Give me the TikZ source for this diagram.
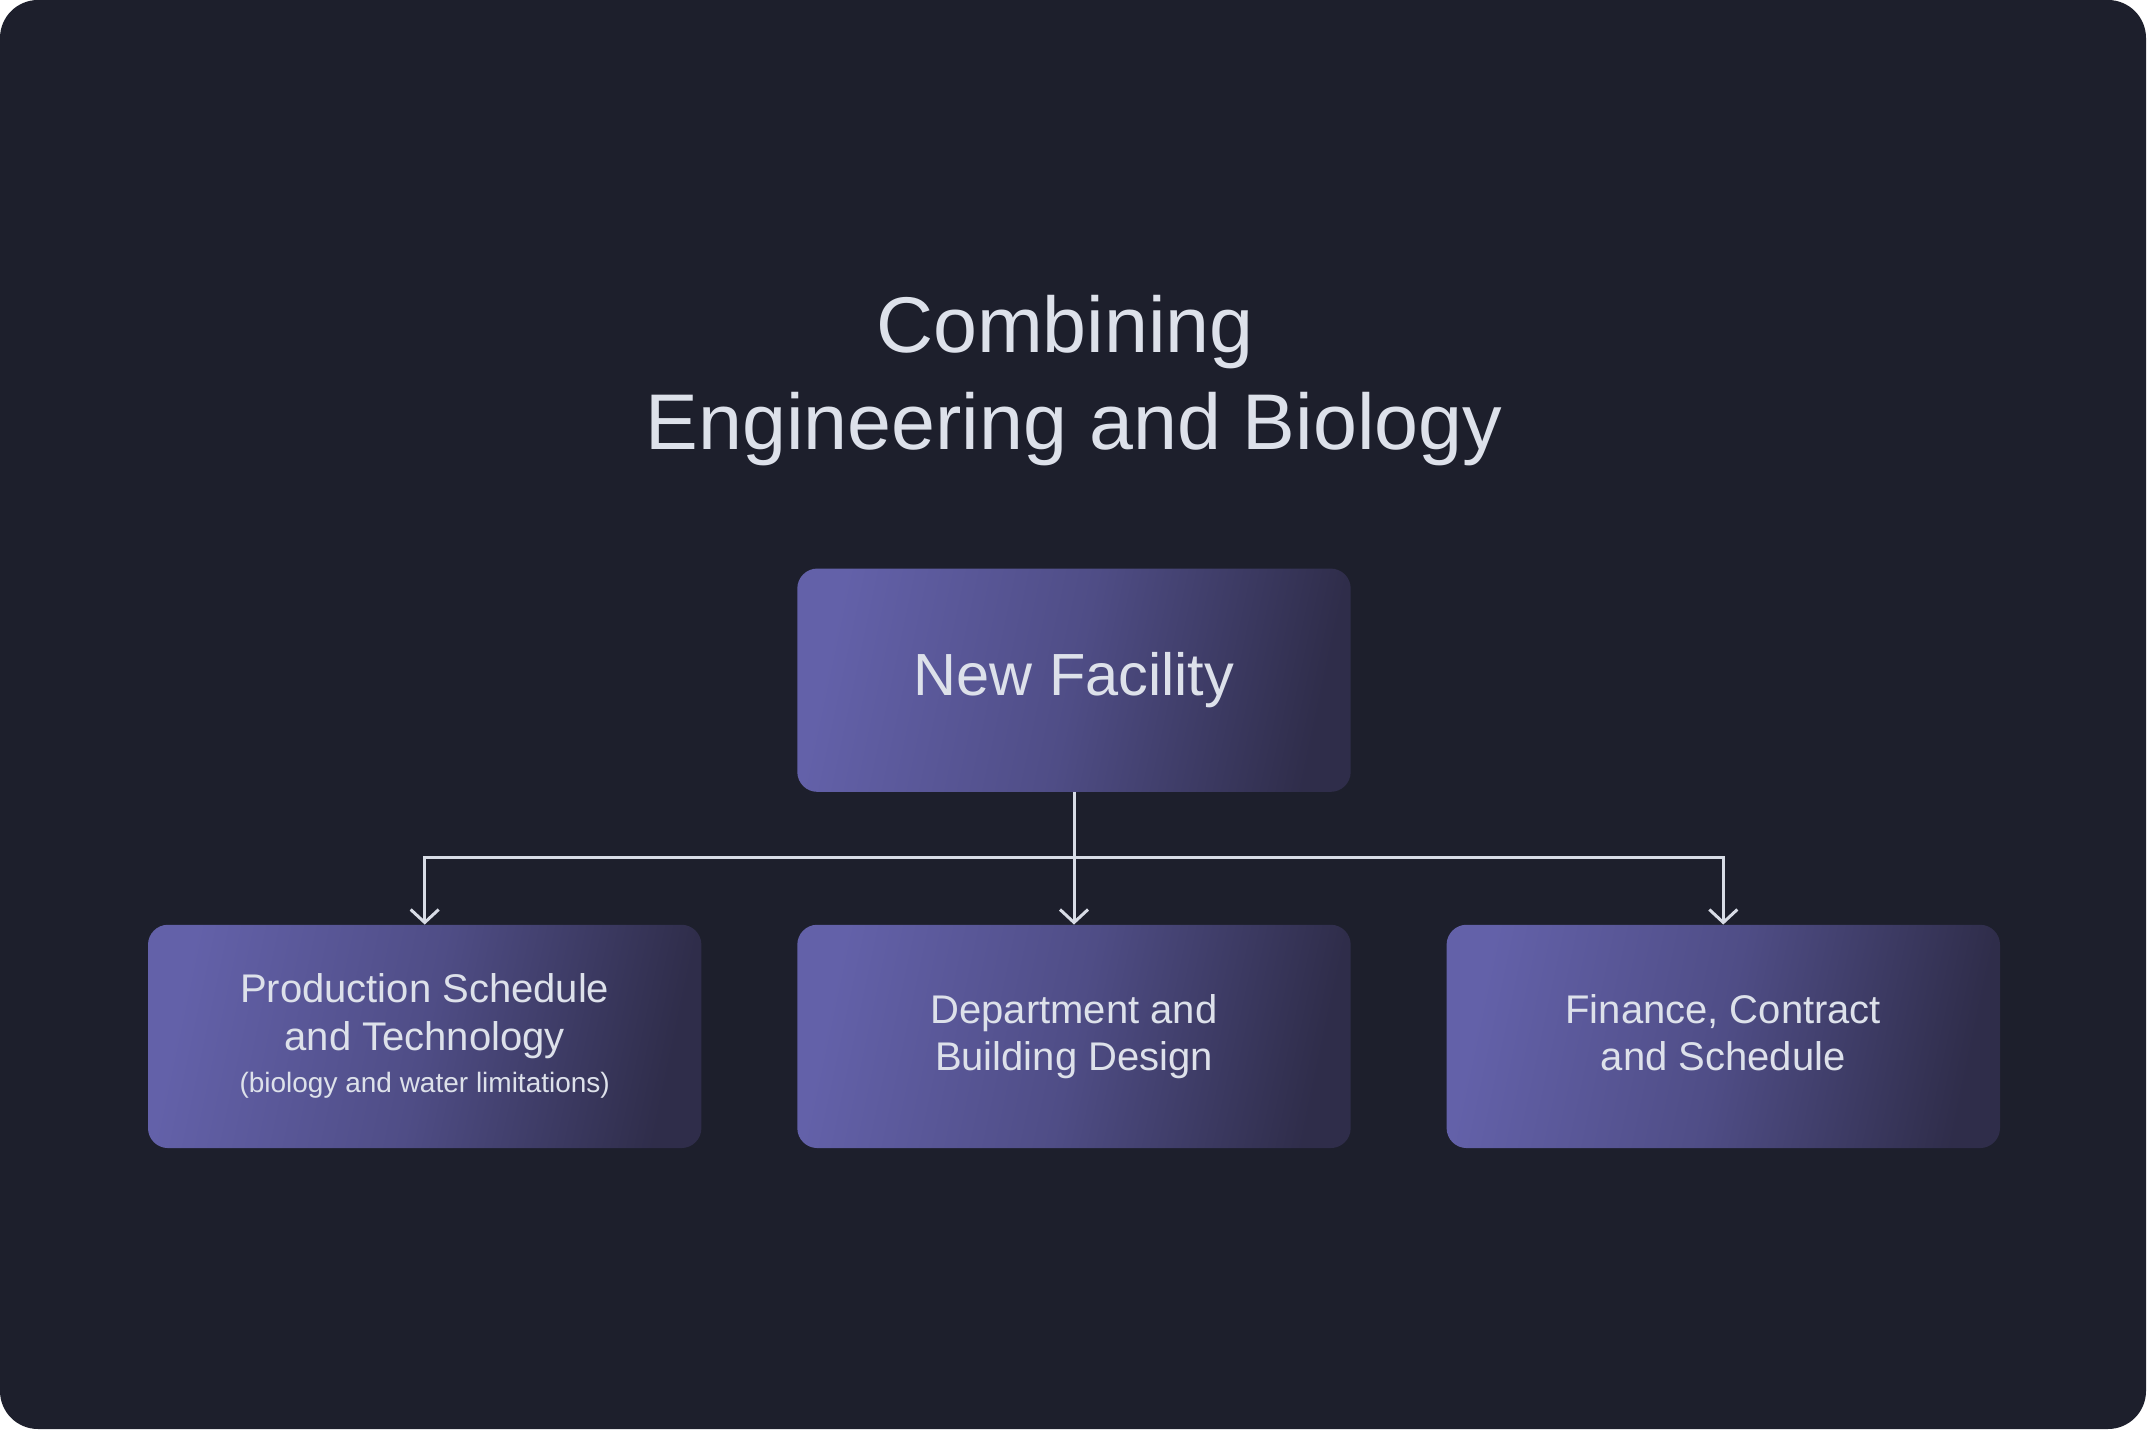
\documentclass[tikz,border=0pt]{standalone}
\usepackage{fontspec}
\setmainfont{Liberation Sans}
\usetikzlibrary{arrows.meta}
\definecolor{bgdark}{HTML}{1D1F2C}
\definecolor{boxlight}{HTML}{6361A9}
\definecolor{boxmid}{HTML}{4F4D86}
\definecolor{boxdark}{HTML}{2F2D4A}
\definecolor{txt}{HTML}{DDE1EA}
\definecolor{wire}{HTML}{D8DCE6}
\pgfdeclarehorizontalshading{cardshade}{100bp}{color(0bp)=(boxlight); color(25bp)=(boxlight); color(50bp)=(boxmid); color(75bp)=(boxdark); color(100bp)=(boxdark)}
\tikzset{
  card/.style={rectangle, rounded corners=20, inner sep=0pt,
    minimum width=553.4, minimum height=223.3,
    shading=cardshade, shading angle=-12,
    text=txt, align=center},
  link/.style={draw=wire, line width=3pt},
  tip/.style={-{Straight Barb[length=13pt,width=28pt,line width=3pt]}},
  titletext/.style={text=txt, font=\fontsize{79}{96}\selectfont, anchor=base, inner sep=0pt}
}
\begin{document}
\begin{tikzpicture}[x=1pt,y=-1pt]
\useasboundingbox (0,0) rectangle (2148,1431);
\fill[white] (0,0) rectangle (2148,1431);
\fill[bgdark, rounded corners=38] (0,0) rectangle (2146,1429);

\node[titletext] (t1) at (1065,353) {Combining};
\node[titletext] (t2) at (1074,449) {Engineering and Biology};

\node[card, font=\fontsize{59.5}{70}\selectfont] (nf) at (1074,680.2) {New Facility};

\node[card, font=\fontsize{40}{48}\selectfont] (b1) at (424.7,1036.4)
  {Production Schedule\\and Technology\\[-6pt]{\fontsize{28}{34}\selectfont (biology and water limitations)}};
\node[card, font=\fontsize{40}{47}\selectfont] (b2) at (1074,1036.4)
  {Department and\\Building Design};
\node[card, font=\fontsize{40}{47}\selectfont] (b3) at (1723.3,1036.4)
  {Finance, Contract\\and Schedule\vphantom{g}};

\coordinate (j) at (1074,857.6);
\draw[link] (nf.south) -- (j);
\draw[link, tip] (j) -- (b2.north);
\draw[link, tip] (j) -| (b1.north);
\draw[link, tip] (j) -| (b3.north);
\end{tikzpicture}
\end{document}
